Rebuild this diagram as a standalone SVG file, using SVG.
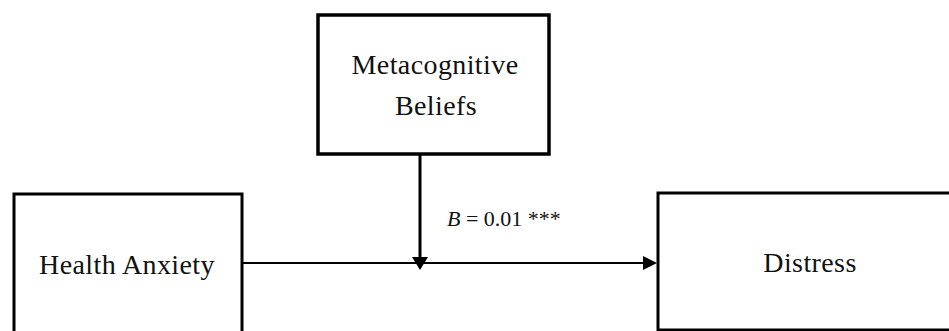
<svg xmlns="http://www.w3.org/2000/svg" width="949" height="331" viewBox="0 0 949 331">
<style>
.box{fill:#fff;stroke:#000;stroke-width:3}
.lbl{font-family:"Liberation Serif",serif;font-size:28px;letter-spacing:0.4px;fill:#111;text-anchor:middle}
.coef{font-family:"Liberation Serif",serif;font-size:22px;fill:#111}
.conn{stroke:#000;fill:none}
.head{fill:#000}
</style>
<g id="node-metacognitive">
<rect class="box" x="318" y="15" width="231" height="139" style="stroke-width:3.5"/>
<text class="lbl" x="435" y="74">Metacognitive</text>
<text class="lbl" x="436" y="115">Beliefs</text>
</g>
<g id="node-health-anxiety">
<rect class="box" x="14" y="194" width="228" height="160"/>
<text class="lbl" x="127" y="274">Health Anxiety</text>
</g>
<g id="node-distress">
<rect class="box" x="658" y="193" width="320" height="137"/>
<text class="lbl" x="810" y="272">Distress</text>
</g>
<g id="connectors">
<line class="conn" x1="242" y1="263" x2="645" y2="263" stroke-width="2"/>
<polygon class="head" points="643,256 657,263 643,270"/>
<line class="conn" x1="420" y1="154" x2="420" y2="259" stroke-width="3"/>
<polygon class="head" points="412,257 428,257 420,270"/>
<text class="coef" x="447" y="226"><tspan font-style="italic">B</tspan> = 0.01 ***</text>
</g>
</svg>
